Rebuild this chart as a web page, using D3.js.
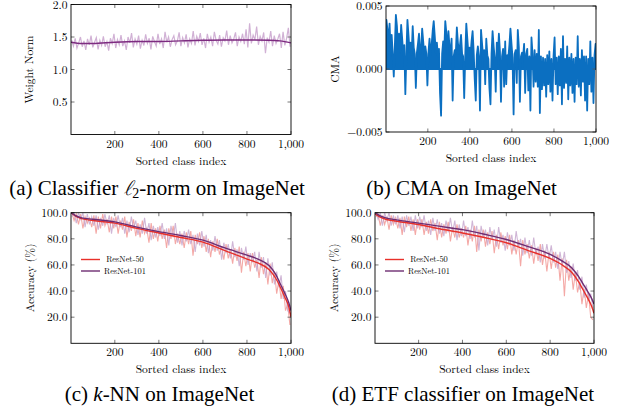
<!DOCTYPE html>
<html>
<head>
<meta charset="utf-8">
<script src="https://cdn.jsdelivr.net/npm/d3@7"></script>
<style>
  html, body { margin: 0; padding: 0; background: #fff; }
  svg { display: block; }
</style>
</head>
<body>
<svg id="chart" width="617" height="412"></svg>
<script>
// ---------------- DATA ----------------
const xTickValues = [200, 400, 600, 800, 1000];
const xTickLabels = ["200", "400", "600", "800", "1,000"];

const normTicks = [0.5, 1.0, 1.5, 2.0];
const normTickLabels = ["0.5", "1.0", "1.5", "2.0"];
const cmaTicks = [-0.005, 0, 0.005];
const cmaTickLabels = ["\u22120.005", "0.000", "0.005"];
const accTicks = [20, 40, 60, 80, 100];
const accTickLabels = ["20.0", "40.0", "60.0", "80.0", "100.0"];

// (a) classifier weight norm: raw (every 8 classes from 4) and smoothed trend
const normRawClass = d3.range(4, 1000, 8);
const normRaw = [
  1.45,1.36,1.48,1.33,1.41,1.50,1.35,1.44,1.30,1.47,
  1.38,1.52,1.34,1.42,1.49,1.31,1.45,1.37,1.51,1.35,
  1.43,1.29,1.48,1.40,1.55,1.33,1.46,1.38,1.53,1.36,
  1.44,1.30,1.50,1.41,1.56,1.34,1.47,1.39,1.52,1.32,
  1.45,1.37,1.54,1.40,1.48,1.31,1.51,1.43,1.36,1.55,
  1.39,1.47,1.33,1.58,1.42,1.50,1.35,1.46,1.52,1.38,
  1.44,1.57,1.36,1.49,1.41,1.54,1.34,1.47,1.40,1.59,
  1.37,1.51,1.43,1.56,1.38,1.48,1.33,1.55,1.42,1.50,
  1.36,1.58,1.45,1.39,1.53,1.35,1.49,1.44,1.60,1.38,
  1.52,1.41,1.47,1.57,1.36,1.50,1.43,1.55,1.39,1.62,
  1.34,1.71,1.40,1.53,1.46,1.66,1.38,1.51,1.44,1.57,
  1.25,1.49,1.42,1.59,1.36,1.52,1.40,1.47,1.55,1.33,
  1.58,1.37,1.48,1.64,1.35
];
const normSmoothClass = [1, 50, 100, 200, 300, 400, 500, 600, 700, 800, 900, 950, 1000];
const normSmooth = [1.42, 1.40, 1.40, 1.42, 1.43, 1.43, 1.44, 1.45, 1.455, 1.455, 1.45, 1.44, 1.41];

// (b) CMA per class (every 5 classes)
const cmaClass = d3.range(3, 1000, 5);
const cmaValues = [
  0.0039, 0.0031, 0.0022, 0.0036, 0.0014, 0.0027, 0.0012, -0.0006, 0.0018, 0.0043,
  0.0034, 0.0016, 0.0028, 0.0013, 0.0035, 0.0024, 0.0011, 0.0019, -0.0020, 0.0012,
  0.0039, 0.0027, 0.0014, 0.0021, 0.0011, 0.0034, 0.0017, 0.0012, -0.0015, 0.0013,
  0.0020, 0.0028, 0.0012, 0.0015, 0.0032, 0.0022, 0.0011, 0.0018, 0.0012, -0.0013,
  0.0013, 0.0024, 0.0011, 0.0019, 0.0030, 0.0038, 0.0026, 0.0013, 0.0021, 0.0010,
  0.0016, -0.0019, -0.0037, 0.0012, 0.0022, 0.0013, 0.0038, 0.0029, 0.0011, 0.0030,
  0.0018, 0.0011, 0.0024, -0.0025, 0.0010, 0.0015, 0.0012, 0.0033, 0.0021, 0.0012,
  0.0019, 0.0027, 0.0012, 0.0010, -0.0023, 0.0011, 0.0036, 0.0024, 0.0012, 0.0017,
  0.0011, 0.0022, 0.0030, 0.0014, -0.0008, -0.0025, 0.0011, 0.0018, 0.0010, -0.0033,
  0.0031, 0.0020, 0.0009, 0.0015, -0.0012, 0.0024, 0.0011, 0.0008, -0.0015, -0.0028,
  0.0012, 0.0030, 0.0018, 0.0009, -0.0018, 0.0021, 0.0010, 0.0028, 0.0014, -0.0026,
  0.0010, 0.0016, -0.0014, 0.0022, -0.0012, 0.0011, 0.0009, 0.0019, 0.0032, 0.0020,
  0.0009, -0.0036, 0.0012, 0.0015, -0.0011, 0.0031, 0.0017, -0.0026, 0.0010, 0.0013,
  0.0009, 0.0020, -0.0019, 0.0012, 0.0016, -0.0017, 0.0010, -0.0033, 0.0025, 0.0012,
  -0.0014, 0.0015, -0.0010, 0.0012, -0.0014, 0.0031, -0.0035, 0.0010, -0.0016, 0.0009,
  -0.0013, 0.0008, -0.0022, 0.0011, -0.0012, 0.0014, -0.0018, 0.0008, -0.0025, 0.0010,
  0.0025, -0.0012, 0.0009, -0.0020, 0.0010, -0.0013, 0.0016, -0.0028, 0.0026, -0.0015,
  0.0008, -0.0011, 0.0018, -0.0024, 0.0009, -0.0013, 0.0012, -0.0019, 0.0008, -0.0026,
  0.0009, -0.0012, 0.0026, -0.0014, 0.0008, -0.0021, 0.0015, -0.0010, 0.0010, -0.0025,
  0.0010, -0.0033, 0.0008, -0.0012, 0.0022, -0.0018, 0.0009, -0.0027, 0.0011, 0.0020
];

// (c)/(d) per-class accuracy (every 10 classes) and smoothed trends
const accRawClass = d3.range(5, 1000, 10);
const knn50Raw = [
  100, 94, 99, 91, 99, 88, 97, 92, 96, 89,
  98, 84, 97, 88, 99, 90, 95, 85, 97, 88,
  97, 84, 94, 87, 97, 81, 93, 86, 95, 82,
  92, 81, 94, 84, 88, 77, 92, 80, 88, 78,
  90, 80, 87, 73, 88, 80, 90, 76, 84, 76,
  84, 73, 85, 76, 86, 67, 83, 76, 85, 73,
  82, 70, 80, 66, 78, 70, 80, 68, 74, 64,
  76, 65, 72, 61, 73, 63, 74, 54, 70, 59,
  69, 55, 69, 58, 64, 50, 66, 53, 62, 45,
  61, 46, 55, 38, 48, 34, 44, 25, 30, 14
];
const knn101Raw = [
  97, 100, 92, 100, 95, 100, 89, 99, 91, 97,
  90, 98, 87, 96, 90, 99, 91, 98, 84, 96,
  89, 98, 89, 96, 84, 94, 85, 97, 88, 94,
  83, 91, 84, 96, 84, 92, 79, 90, 81, 89,
  82, 92, 80, 88, 75, 90, 81, 92, 77, 86,
  75, 86, 78, 87, 76, 83, 70, 84, 75, 86,
  74, 83, 69, 79, 71, 82, 71, 79, 64, 77,
  69, 76, 65, 78, 66, 72, 59, 73, 64, 74,
  60, 69, 62, 70, 55, 70, 58, 66, 50, 65,
  52, 62, 45, 55, 43, 52, 34, 40, 25, 23
];
const etf50Raw = [
  97, 99, 90, 98, 91, 97, 87, 98, 91, 96,
  88, 96, 83, 97, 89, 97, 86, 95, 83, 95,
  87, 95, 83, 93, 84, 95, 86, 92, 79, 93,
  81, 91, 84, 93, 78, 89, 81, 91, 81, 88,
  81, 90, 75, 87, 78, 90, 70, 87, 78, 87,
  74, 85, 76, 86, 69, 83, 72, 85, 75, 82,
  72, 83, 68, 79, 68, 79, 59, 79, 68, 76,
  65, 75, 61, 73, 63, 76, 60, 71, 55, 70,
  57, 70, 58, 68, 48, 65, 36, 64, 48, 59,
  41, 54, 39, 47, 30, 42, 27, 38, 20, 18
];
const etf101Raw = [
  100, 95, 100, 90, 100, 94, 100, 90, 98, 91,
  98, 88, 97, 85, 98, 90, 97, 86, 98, 88,
  97, 89, 98, 86, 94, 83, 96, 86, 95, 84,
  92, 82, 94, 85, 96, 85, 94, 79, 91, 82,
  94, 82, 89, 80, 94, 81, 90, 71, 90, 81,
  87, 75, 89, 79, 87, 74, 89, 77, 83, 71,
  85, 75, 83, 71, 86, 74, 80, 67, 81, 69,
  79, 67, 81, 68, 74, 62, 76, 65, 76, 65,
  75, 62, 70, 57, 70, 59, 70, 54, 63, 50,
  61, 48, 56, 41, 51, 35, 45, 33, 38, 27
];
const accSmoothClass = [1, 20, 50, 100, 200, 300, 400, 500, 600, 700, 800, 850, 900, 930, 950, 970, 990, 1000];
const knn50Smooth  = [100, 97.5, 95.5, 94, 92, 88, 84.5, 81, 77.5, 71, 64.5, 61.5, 56.5, 50, 43.5, 36, 28, 20];
const knn101Smooth = [100, 98, 96, 95, 93, 89, 85.5, 82.5, 79, 73, 67.5, 64.5, 59.5, 53, 46, 39, 31, 25];
const etf50Smooth  = [99, 97, 95, 93.5, 91, 87.5, 84.5, 81, 77, 71, 65, 60.5, 54, 47, 41, 35, 28, 23];
const etf101Smooth = [100, 98, 96, 94.5, 92, 89.5, 87, 83.5, 79.5, 74, 68, 63.5, 57.5, 51, 45.5, 40, 34, 30];

const legendNames = ["ResNet-50", "ResNet-101"];

// ---------------- STYLE ----------------
const PLOT_FONT = "'Latin Modern Roman', 'Liberation Serif', serif";
const CAP_FONT = "'Liberation Serif', 'Times New Roman', serif";
const C = {
  normRaw: "#d1b1d5", normSmooth: "#7d2b80",
  cma: "#0b6fc1",
  red: "#e8302a", purple: "#6e2d72",
  redRaw: "#f29a96", purpleRaw: "#c09ec8"
};

const svg = d3.select("#chart");
let clipId = 0;

function panel(cfg) {
  const x = d3.scaleLinear().domain([1, 1000]).range([cfg.left, cfg.right]);
  const y = d3.scaleLinear().domain(cfg.yDomain).range([cfg.bottom, cfg.top]);
  const g = svg.append("g").attr("font-family", PLOT_FONT);
  const id = "clip" + (clipId++);
  g.append("clipPath").attr("id", id).append("rect")
    .attr("x", cfg.left).attr("y", cfg.top)
    .attr("width", cfg.right - cfg.left).attr("height", cfg.bottom - cfg.top);
  const data = g.append("g").attr("clip-path", `url(#${id})`);
  return { x, y, g, data, cfg };
}

function frame(p, yTicks, yLabels, yTitle, yTitleX) {
  const { x, y, g, cfg } = p;
  const tl = 3.5;
  const xt = g.append("g");
  xTickValues.forEach(v => {
    xt.append("line").attr("x1", x(v)).attr("x2", x(v)).attr("y1", cfg.bottom).attr("y2", cfg.bottom - tl);
    xt.append("line").attr("x1", x(v)).attr("x2", x(v)).attr("y1", cfg.top).attr("y2", cfg.top + tl);
  });
  yTicks.forEach(v => {
    xt.append("line").attr("x1", cfg.left).attr("x2", cfg.left + tl).attr("y1", y(v)).attr("y2", y(v));
    xt.append("line").attr("x1", cfg.right).attr("x2", cfg.right - tl).attr("y1", y(v)).attr("y2", y(v));
  });
  xt.selectAll("line").attr("stroke", "#555").attr("stroke-width", 0.8);
  g.append("rect").attr("x", cfg.left).attr("y", cfg.top)
    .attr("width", cfg.right - cfg.left).attr("height", cfg.bottom - cfg.top)
    .attr("fill", "none").attr("stroke", "#000").attr("stroke-width", 0.9);
  g.selectAll(".xl").data(xTickValues).enter().append("text")
    .attr("x", v => x(v)).attr("y", cfg.bottom + 13)
    .attr("text-anchor", "middle").attr("font-size", 11.5)
    .text((v, i) => xTickLabels[i]);
  g.selectAll(".yl").data(yTicks).enter().append("text")
    .attr("x", cfg.left - 3.5).attr("y", v => y(v))
    .attr("dy", "0.35em")
    .attr("text-anchor", "end").attr("font-size", 11.5)
    .text((v, i) => yLabels[i]);
  g.append("text").attr("x", (cfg.left + cfg.right) / 2).attr("y", cfg.bottom + 30)
    .attr("text-anchor", "middle").attr("font-size", 11.5).text("Sorted class index");
  g.append("text")
    .attr("transform", `translate(${yTitleX},${(cfg.top + cfg.bottom) / 2}) rotate(-90)`)
    .attr("text-anchor", "middle").attr("dy", "0.35em").attr("font-size", 11.5).text(yTitle);
}

function lineOf(p, xs, ys) {
  return d3.line().x((d, i) => p.x(xs[i])).y(d => p.y(d))(ys);
}
function smoothOf(p, xs, ys) {
  return d3.line().curve(d3.curveMonotoneX).x((d, i) => p.x(xs[i])).y(d => p.y(d))(ys);
}

// ---------- (a) ----------
const pa = panel({ left: 71, right: 291, top: 4.5, bottom: 134.5, yDomain: [0, 2] });
pa.data.append("path").attr("d", lineOf(pa, normRawClass, normRaw))
  .attr("fill", "none").attr("stroke", C.normRaw).attr("stroke-width", 1.2);
pa.data.append("path").attr("d", smoothOf(pa, normSmoothClass, normSmooth))
  .attr("fill", "none").attr("stroke", C.normSmooth).attr("stroke-width", 1.4);
frame(pa, normTicks, normTickLabels, "Weight Norm", 29);

// ---------- (b) ----------
const pb = panel({ left: 386, right: 596, top: 6, bottom: 132, yDomain: [-0.005, 0.005] });
const cmaArea = d3.area()
  .x((d, i) => pb.x(cmaClass[i]))
  .y0(pb.y(0))
  .y1(d => pb.y(d));
pb.data.append("path").attr("d", cmaArea(cmaValues))
  .attr("fill", C.cma).attr("stroke", C.cma).attr("stroke-width", 1.8).attr("stroke-linejoin", "round");
frame(pb, cmaTicks, cmaTickLabels, "CMA", 335);

// ---------- (c), (d) ----------
function accPanel(left, right, r50, r101, s50, s101, titleX) {
  const p = panel({ left, right, top: 212.7, bottom: 343.3, yDomain: [0, 100] });
  p.data.append("path").attr("d", lineOf(p, accRawClass, r50))
    .attr("fill", "none").attr("stroke", C.redRaw).attr("stroke-width", 1.1).attr("opacity", 0.85);
  p.data.append("path").attr("d", lineOf(p, accRawClass, r101))
    .attr("fill", "none").attr("stroke", C.purpleRaw).attr("stroke-width", 1.1).attr("opacity", 0.75);
  p.data.append("path").attr("d", smoothOf(p, accSmoothClass, s50))
    .attr("fill", "none").attr("stroke", C.red).attr("stroke-width", 1.4);
  p.data.append("path").attr("d", smoothOf(p, accSmoothClass, s101))
    .attr("fill", "none").attr("stroke", C.purple).attr("stroke-width", 1.4);
  frame(p, accTicks, accTickLabels, "Accuracy (%)", titleX);
  const lg = p.g.append("g");
  [C.red, C.purple].forEach((c, i) => {
    const ly = 259.5 + i * 11.5;
    lg.append("line").attr("x1", left + 10).attr("x2", left + 29).attr("y1", ly).attr("y2", ly)
      .attr("stroke", c).attr("stroke-width", 1.4);
    lg.append("text").attr("x", left + 54).attr("y", ly).attr("dy", "0.35em")
      .attr("text-anchor", "middle").attr("font-size", 8.4).text(legendNames[i]);
  });
  return p;
}
accPanel(71, 291, knn50Raw, knn101Raw, knn50Smooth, knn101Smooth, 30);
accPanel(375, 594, etf50Raw, etf101Raw, etf50Smooth, etf101Smooth, 334);

// ---------- captions ----------
const capSize = 21;
const caps = svg.append("g").attr("font-family", CAP_FONT).attr("font-size", capSize);
const capA = caps.append("text").attr("x", 157).attr("y", 195).attr("text-anchor", "middle");
capA.append("tspan").text("(a) Classifier ");
capA.append("tspan").attr("font-family", "'Latin Modern Math', 'Latin Modern Roman', serif").attr("font-style", "italic").text("\u2113");
capA.append("tspan").attr("font-size", 14).attr("dy", 3).text("2");
capA.append("tspan").attr("dy", -3).text("-norm on ImageNet");

caps.append("text").attr("x", 461.5).attr("y", 195).attr("text-anchor", "middle")
  .text("(b) CMA on ImageNet");

const capC = caps.append("text").attr("x", 159.5).attr("y", 401).attr("text-anchor", "middle");
capC.append("tspan").text("(c) ");
capC.append("tspan").attr("font-style", "italic").text("k");
capC.append("tspan").text("-NN on ImageNet");

caps.append("text").attr("x", 463).attr("y", 401).attr("text-anchor", "middle")
  .text("(d) ETF classifier on ImageNet");
</script>
</body>
</html>
